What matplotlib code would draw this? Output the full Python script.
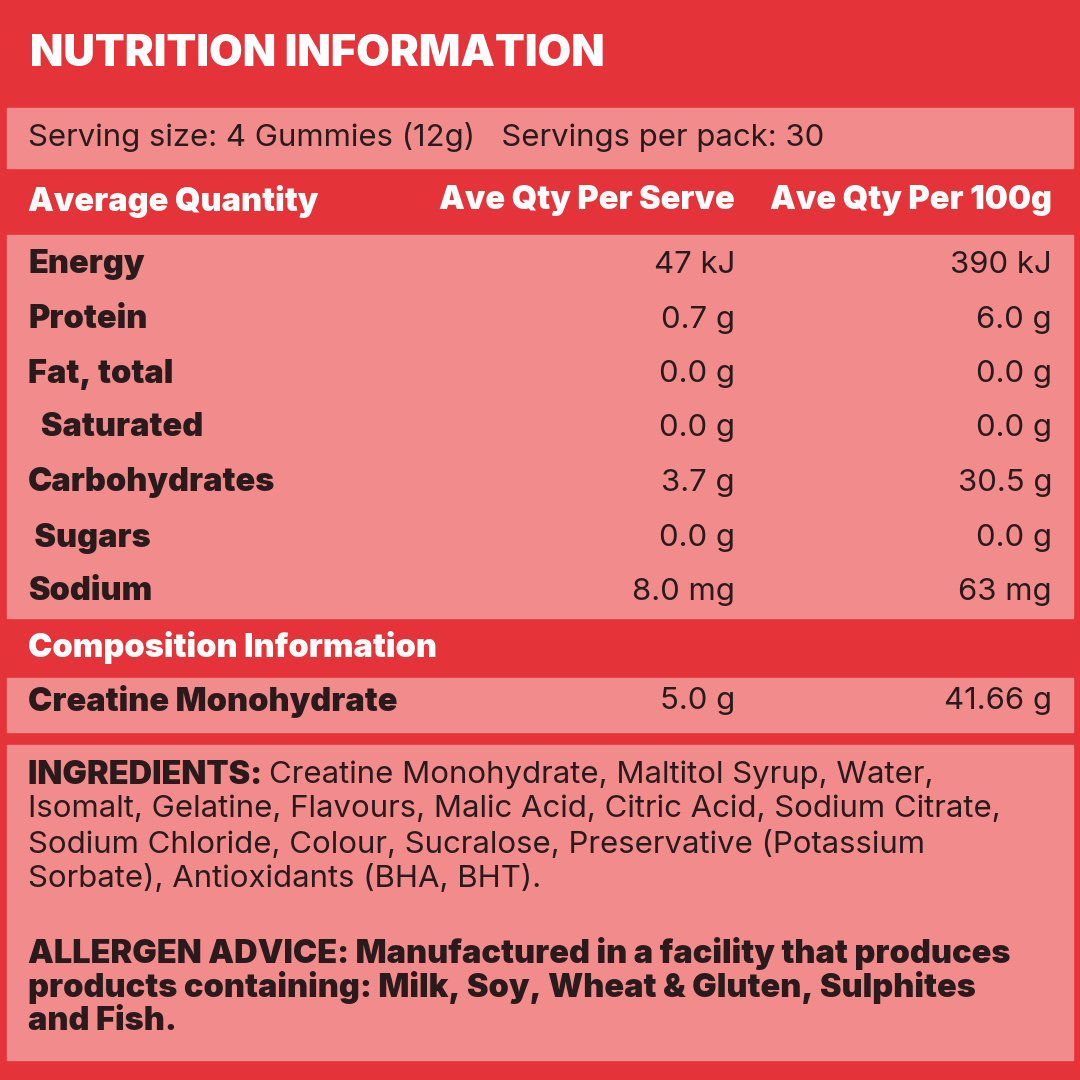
import matplotlib
matplotlib.use("Agg")
import matplotlib.pyplot as plt
from matplotlib.patches import Rectangle

title = "NUTRITION INFORMATION"
serving = "Serving size: 4 Gummies (12g)   Servings per pack: 30"
headers = ["Average Quantity", "Ave Qty Per Serve", "Ave Qty Per 100g"]
nutrients = ["Energy", "Protein", "Fat, total", "  Saturated", "Carbohydrates", " Sugars", "Sodium"]
per_serve = ["47 kJ", "0.7 g", "0.0 g", "0.0 g", "3.7 g", "0.0 g", "8.0 mg"]
per_100g = ["390 kJ", "6.0 g", "0.0 g", "0.0 g", "30.5 g", "0.0 g", "63 mg"]
comp_title = "Composition Information"
comp_names = ["Creatine Monohydrate"]
comp_serve = ["5.0 g"]
comp_100g = ["41.66 g"]
ingredients = ["Creatine Monohydrate, Maltitol Syrup, Water,",
               "Isomalt, Gelatine, Flavours, Malic Acid, Citric Acid, Sodium Citrate,",
               "Sodium Chloride, Colour, Sucralose, Preservative (Potassium",
               "Sorbate), Antioxidants (BHA, BHT)."]
allergen = ["ALLERGEN ADVICE: Manufactured in a facility that produces",
            "products containing: Milk, Soy, Wheat & Gluten, Sulphites",
            "and Fish."]

RED = "#e5333a"
PINK = "#f28c8c"
INK = "#2b1a1c"
FONT = "Inter"
BS = 23.4   # bold size
RS = 22.4   # regular size

fig = plt.figure(figsize=(10.8, 10.8), dpi=100)
ax = fig.add_axes([0, 0, 1, 1])
ax.set_xlim(0, 1080); ax.set_ylim(1080, 0); ax.axis("off")
fig.patch.set_facecolor(RED)
ax.add_patch(Rectangle((0, 0), 1080, 1080, color=RED))

def panel(y0, y1):
    ax.add_patch(Rectangle((7, y0), 1066, y1 - y0, color=PINK))

panel(108, 168); panel(235, 618); panel(678, 732); panel(745, 1060)

ax.text(30, 55, title, color="white", fontsize=31.3, fontweight="black", family=FONT, va="center")
ax.text(28, 137, serving, color=INK, fontsize=RS, family=FONT, va="center")
hy = 201
ax.text(28, hy, headers[0], color="white", fontsize=BS, fontweight="black", family=FONT, va="center")
ax.text(735, hy, headers[1], color="white", fontsize=BS, fontweight="black", family=FONT, va="center", ha="right")
ax.text(1052, hy, headers[2], color="white", fontsize=BS, fontweight="black", family=FONT, va="center", ha="right")

ys = [265, 320, 374, 428, 483, 538, 592]
for y, n, a, b in zip(ys, nutrients, per_serve, per_100g):
    ax.text(28, y, n, color=INK, fontsize=BS, fontweight="black", family=FONT, va="center")
    ax.text(735, y, a, color=INK, fontsize=RS, family=FONT, va="center", ha="right")
    ax.text(1052, y, b, color=INK, fontsize=RS, family=FONT, va="center", ha="right")

ax.text(28, 647, comp_title, color="white", fontsize=BS, fontweight="black", family=FONT, va="center")
for n, a, b in zip(comp_names, comp_serve, comp_100g):
    ax.text(28, 701, n, color=INK, fontsize=BS, fontweight="black", family=FONT, va="center")
    ax.text(735, 701, a, color=INK, fontsize=RS, family=FONT, va="center", ha="right")
    ax.text(1052, 701, b, color=INK, fontsize=RS, family=FONT, va="center", ha="right")

iy = [775, 809, 844, 879]
t = ax.text(28, iy[0], "INGREDIENTS: ", color=INK, fontsize=BS, fontweight="black", family=FONT, va="center")
fig.canvas.draw()
bb = t.get_window_extent().transformed(ax.transData.inverted())
ax.text(bb.x1, iy[0], ingredients[0], color=INK, fontsize=RS, family=FONT, va="center")
for y, line in zip(iy[1:], ingredients[1:]):
    ax.text(28, y, line, color=INK, fontsize=RS, family=FONT, va="center")

for y, line in zip([953, 988, 1022], allergen):
    ax.text(28, y, line, color=INK, fontsize=BS, fontweight="black", family=FONT, va="center")

fig.savefig("out.png", dpi=100, facecolor=RED)
